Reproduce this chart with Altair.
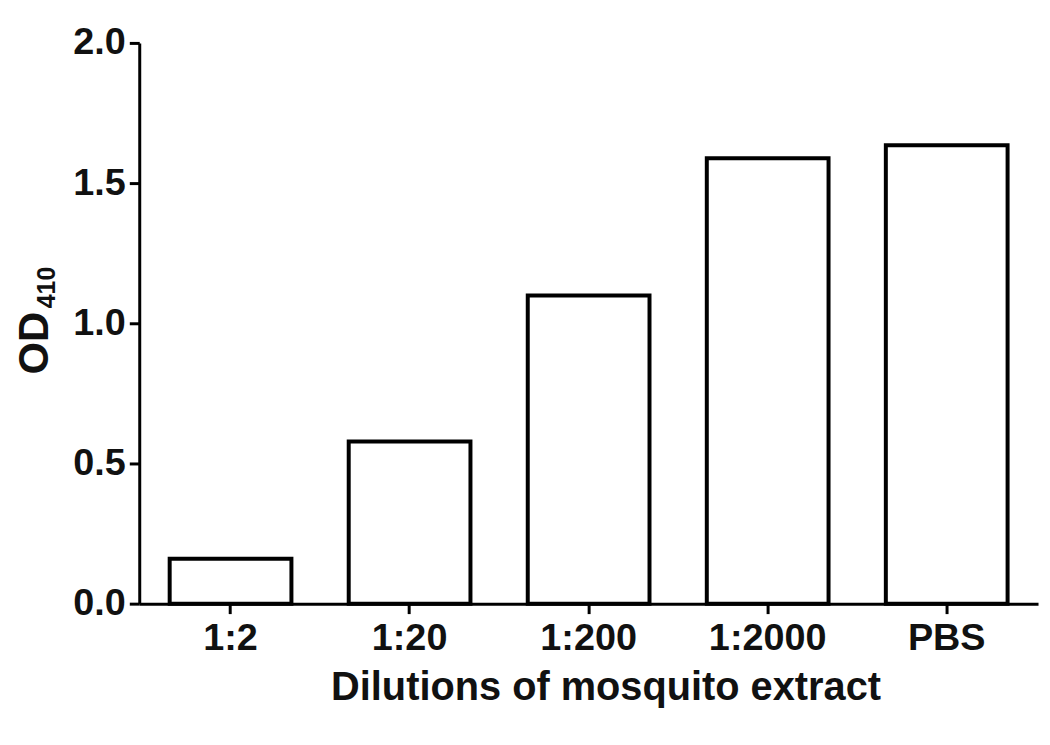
import altair as alt
import pandas as pd

categories = ["1:2", "1:20", "1:200", "1:2000", "PBS"]
od_values = [0.16, 0.578, 1.099, 1.589, 1.635]
y_ticks = [0.0, 0.5, 1.0, 1.5, 2.0]

df = pd.DataFrame({"dilution": categories, "od": od_values})

FONT = "Liberation Sans"
W, H = 904, 564

bars = alt.Chart(df).mark_bar(
    fill="white", stroke="black", strokeWidth=4
).encode(
    x=alt.X("dilution:N", sort=categories,
            scale=alt.Scale(paddingInner=0.32, paddingOuter=0.17),
            axis=alt.Axis(title="Dilutions of mosquito extract", labelAngle=0,
                          labelFontSize=38, labelFontWeight="bold", labelFont=FONT,
                          labelColor="#111", labelPadding=6, tickSize=10, tickWidth=3,
                          tickColor="black", domainWidth=3, domainColor="black",
                          titleFontSize=40, titleFontWeight="bold", titleFont=FONT,
                          titleColor="#111", titlePadding=10, titleX=469,
                          titleAlign="center", grid=False)),
    y=alt.Y("od:Q", scale=alt.Scale(domain=[0, 2], nice=False),
            axis=alt.Axis(title=None, values=y_ticks, format=".1f",
                          labelFontSize=38, labelFontWeight="bold", labelFont=FONT,
                          labelColor="#111", labelPadding=4, tickSize=10, tickWidth=3,
                          tickColor="black", domainWidth=3, domainColor="black",
                          grid=False)),
)

title_df = pd.DataFrame({"t": ["OD"]})
od_text = alt.Chart(title_df).mark_text(
    angle=270, fontSize=42, fontWeight="bold", font=FONT, color="#111",
    align="center", baseline="middle"
).encode(x=alt.value(-105), y=alt.value(302), text="t:N")

sub_df = pd.DataFrame({"t": ["410"]})
sub_text = alt.Chart(sub_df).mark_text(
    angle=270, fontSize=25, fontWeight="bold", font=FONT, color="#111",
    align="center", baseline="middle"
).encode(x=alt.value(-93), y=alt.value(246), text="t:N")

chart = alt.layer(bars, od_text, sub_text).properties(
    width=W, height=H,
    background="white",
    autosize=alt.AutoSizeParams(type="none"),
    padding={"left": 132, "top": 33, "right": 4, "bottom": 132},
).configure_view(stroke=None)

chart.save("out.html", embed_options={"renderer": "svg", "actions": False})
